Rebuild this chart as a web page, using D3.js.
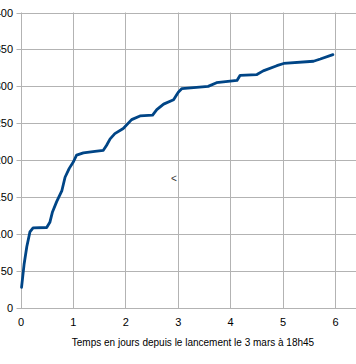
<meta charset="utf-8">
<head>
<style>
  body { margin: 0; background: #fff; }
  svg text { font-family: "Liberation Sans", Arial, sans-serif; }
</style>
</head>
<body>
<div id="chartId"></div>
</body>
<script src="https://d3js.org/d3.v7.min.js"></script>
<script>

// Data
var days = [0.02, 0.07, 0.12, 0.18, 0.24, 0.5, 0.56, 0.61, 0.69, 0.79, 0.85, 0.93, 1.01, 1.07, 1.2,
            1.42, 1.58, 1.64, 1.71, 1.8, 1.96, 2.12, 2.28, 2.52, 2.6, 2.73, 2.92, 3.01, 3.08,
            3.58, 3.74, 4.13, 4.19, 4.51, 4.63, 4.89, 5.02, 5.59, 5.72, 5.96];
var counts = [28, 60, 83, 103, 108.5, 109, 116, 130, 144, 159, 177, 189, 198, 207, 210,
              212, 213.5, 220, 229, 236, 243, 255, 260, 261, 268.5, 276, 282, 292, 297,
              300, 305, 308, 315, 316, 321, 328, 331, 334, 337, 343];
var xTicks = [0, 1, 2, 3, 4, 5, 6];
var yTicks = [0, 50, 100, 150, 200, 250, 300, 350, 400];
var xTitle = "Temps en jours depuis le lancement le 3 mars à 18h45";

var width = 356, height = 364;

var svg = d3.select("#chartId").append("svg")
	.attr("width", width)
	.attr("height", height);

var x = d3.scaleLinear().domain([0, 6.5]).range([20.5, 20.5 + 6.5 * 52.42]);
var y = d3.scaleLinear().domain([0, 400]).range([308, 12.5]);

// grid
svg.append("g").selectAll("line.v")
	.data(xTicks)
	.enter().append("line")
	.attr("x1", function(d) { return Math.round(x(d)) + 0.5; })
	.attr("x2", function(d) { return Math.round(x(d)) + 0.5; })
	.attr("y1", y(400))
	.attr("y2", y(0))
	.attr("stroke", "#b3b3b3");

svg.append("g").selectAll("line.h")
	.data(yTicks)
	.enter().append("line")
	.attr("x1", x(0) - 4)
	.attr("x2", width)
	.attr("y1", function(d) { return Math.round(y(d)) + 0.5; })
	.attr("y2", function(d) { return Math.round(y(d)) + 0.5; })
	.attr("stroke", "#b3b3b3");

// axes (labels only)
var xAxis = svg.append("g")
	.attr("transform", "translate(0," + (y(0) + 7) + ")")
	.call(d3.axisBottom(x).tickValues(xTicks).tickSize(0).tickFormat(d3.format("d")));
xAxis.select(".domain").remove();
xAxis.selectAll("text").attr("font-size", 11).attr("fill", "#000")
	.attr("font-family", "Liberation Sans, Arial, sans-serif");

var yAxis = svg.append("g")
	.attr("transform", "translate(" + (x(0) - 4.5) + ",0)")
	.call(d3.axisLeft(y).tickValues(yTicks).tickSize(0).tickFormat(d3.format("d")));
yAxis.select(".domain").remove();
yAxis.selectAll("text").attr("font-size", 11).attr("fill", "#000")
	.attr("font-family", "Liberation Sans, Arial, sans-serif");

// line
var pts = days.map(function(d, i) { return [d, counts[i]]; });
var line = d3.line()
	.x(function(d) { return x(d[0]); })
	.y(function(d) { return y(d[1]); });

svg.append("path")
	.datum(pts)
	.attr("d", line)
	.attr("fill", "none")
	.attr("stroke", "#004586")
	.attr("stroke-width", 2.8)
	.attr("stroke-linejoin", "round")
	.attr("stroke-linecap", "round");

// stray marker
svg.append("text")
	.attr("x", x(3) - 1)
	.attr("y", y(171))
	.attr("text-anchor", "end")
	.attr("font-size", 10)
	.attr("fill", "#333")
	.text("<");

// x title
svg.append("text")
	.attr("x", 193)
	.attr("y", 346)
	.attr("text-anchor", "middle")
	.attr("font-size", 10)
	.attr("fill", "#000")
	.text(xTitle);

</script>
